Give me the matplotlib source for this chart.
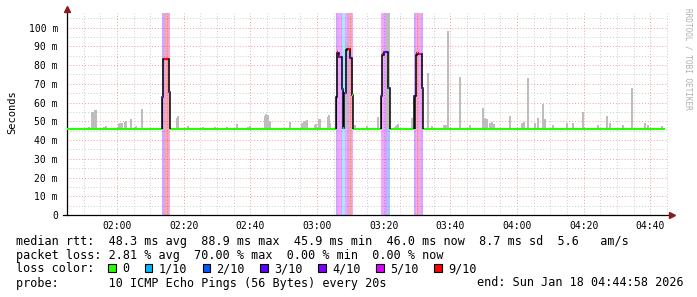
import matplotlib
matplotlib.use("Agg")
import matplotlib.pyplot as plt
from matplotlib.patches import Rectangle

W, H = 697, 297
MONO = "DejaVu Sans Mono"

# time axis in minutes after 01:45 (graph end 04:44:58)
xtick_min = [15, 35, 55, 75, 95, 115, 135, 155, 175]
xtick_lbl = ["02:00", "02:20", "02:40", "03:00", "03:20", "03:40", "04:00", "04:20", "04:40"]
ytick_val = [0, 10, 20, 30, 40, 50, 60, 70, 80, 90, 100]
ytick_lbl = ["0", "10 m", "20 m", "30 m", "40 m", "50 m", "60 m", "70 m", "80 m", "90 m", "100 m"]

median_base = 46.0
median_end = 179.3

loss_lbl = ["0", "1/10", "2/10", "3/10", "4/10", "5/10", "9/10"]
loss_col = ["#26ff00", "#00b8ff", "#0059ff", "#5e00ff", "#7e00ff", "#dd00ff", "#ff0000"]

# grey smoke: time (min), top of smoke (ms)
smoke_t = [0.15, 6.6, 7.5, 7.8, 8.4, 8.7, 11.1, 11.7, 15.6, 15.9, 16.5, 17.4, 17.7, 19.2,
           20.4, 20.7, 22.5, 33.0, 33.3, 36.3, 40.8, 44.4, 48.0, 51.0, 54.3, 54.9, 59.4,
           59.7, 60.3, 60.9, 66.9, 70.5, 71.1, 71.7, 72.0, 74.4, 74.7, 75.6, 75.9, 78.3,
           78.6, 78.9, 83.6, 83.9, 86.4, 90.0, 93.3, 96.0, 96.3, 96.6, 98.4, 98.7, 99.0,
           99.3, 103.5, 108.3, 109.5, 113.1, 113.7, 114.3, 117.9, 120.9, 124.8, 125.4,
           126.0, 126.9, 127.5, 128.1, 132.9, 136.5, 137.1, 138.3, 140.4, 141.3, 142.8,
           143.4, 145.8, 150.0, 151.8, 154.8, 159.3, 162.0, 162.9, 166.8, 169.5, 173.4,
           174.3, 178.5]
smoke_top = [55, 47, 55, 55, 56, 56, 47, 47.5, 48.5, 49, 49, 49.5, 50, 51,
             47, 47.5, 56.5, 52, 53, 47.5, 46.8, 46.8, 47, 48.5, 47, 47.5, 53,
             54, 53.5, 50, 49.5, 49, 50, 50, 50.5, 48, 48.5, 51, 51, 52.5,
             53.5, 49, 94, 92, 48, 47.5, 52.5, 108, 108, 108, 47, 47.5, 48,
             48.5, 52, 76, 47.5, 48, 48, 98, 73.5, 48, 57, 52,
             51, 49, 49.5, 48.5, 53, 49, 49.5, 73, 49, 52, 59,
             51, 48, 49, 49, 55, 48, 53, 49, 48, 68, 49,
             48, 47.5]

# loss episodes: median steps (edges in min, values in ms)
spike_edges = [
    [28.5, 28.9, 30.5, 30.9],
    [80.7, 81.1, 81.6, 82.4, 82.7, 83.2, 83.6, 84.0, 85.0, 85.4, 85.7],
    [94.2, 94.6, 95.1, 96.4, 96.8],
    [104.1, 104.6, 105.1, 106.4, 106.8],
]
spike_vals = [
    [63, 83.5, 65.5],
    [63, 86.5, 84.5, 67.5, 46.5, 65, 88, 88.5, 84, 64],
    [63.5, 85.5, 87, 68],
    [63.5, 85.5, 86, 68],
]

# dark smoke under the first step of each episode
dark_t0 = [28.5, 80.7, 82.7, 94.2, 104.1]
dark_t1 = [28.9, 81.1, 83.2, 94.6, 104.6]
dark_top = [63, 63, 66, 63.5, 63.5]

# coloured median pieces: t0, t1, ms, loss index
loss_pts = [
    (28.5, 28.8, 63, 3), (29.0, 30.4, 83.5, 6), (30.5, 30.8, 65.5, 4),
    (81.1, 81.4, 86.8, 6), (81.6, 81.9, 85, 5), (82.0, 82.3, 84.3, 4), (82.4, 82.7, 67.5, 2),
    (82.8, 83.1, 46.5, 1), (83.3, 83.6, 65, 5), (84.2, 84.8, 88.8, 6), (85.0, 85.3, 84, 3),
    (85.4, 85.7, 64, 0),
    (94.2, 94.5, 63.5, 3), (94.6, 94.9, 86, 6), (95.1, 95.9, 87, 3), (96.4, 96.7, 68, 2),
    (104.1, 104.4, 63.5, 3), (104.8, 105.1, 86.5, 6), (105.2, 105.6, 86.5, 6),
    (105.7, 106.3, 86, 5), (106.4, 106.7, 68, 4),
]

# background loss bands: t0, t1, loss index
loss_bands = [
    (28.5, 29.4, 4), (29.4, 30.6, 6), (30.6, 31.0, 5),
    (80.7, 81.4, 4), (81.4, 82.1, 5), (82.1, 82.6, 4), (82.6, 83.4, 1), (83.4, 84.0, 5),
    (84.0, 84.6, 4), (84.6, 85.4, 6), (85.4, 85.7, 5),
    (94.2, 95.3, 5), (95.3, 96.1, 4), (96.1, 96.9, 2),
    (104.1, 104.6, 4), (104.6, 105.1, 5), (105.1, 105.7, 6), (105.7, 106.3, 5), (106.3, 106.9, 4),
]

legend_lines = [
    "median rtt:  48.3 ms avg  88.9 ms max  45.9 ms min  46.0 ms now  8.7 ms sd  5.6   am/s",
    "packet loss: 2.81 % avg  70.00 % max  0.00 % min  0.00 % now",
    "loss color:",
    "probe:       10 ICMP Echo Pings (56 Bytes) every 20s",
]
end_text = "end: Sun Jan 18 04:44:58 2026"


def fx(x):
    return x / W


def fy(y):
    return 1 - y / H


fig = plt.figure(figsize=(W / 100, H / 100), dpi=100)
ax = fig.add_axes([fx(67), fy(215), (668 - 67) / W, (215 - 13) / H])
ax.set_xlim(0, 180.3)
ax.set_ylim(0, 107.8)

# grid
for t in range(5, 181, 5):
    major = t in xtick_min
    ax.axvline(t, color="#eea0a0" if major else "#cccccc", lw=0.7,
               ls=(0, (1, 2)), zorder=0.5)
for v in range(5, 106, 5):
    major = v % 10 == 0
    ax.axhline(v, color="#eea0a0" if major else "#cccccc", lw=0.7,
               ls=(0, (1, 2)), zorder=0.5)

for t0, t1, k in loss_bands:
    ax.axvspan(t0, t1, color=loss_col[k], alpha=0.35, lw=0, zorder=1)

ax.bar(smoke_t, [s - median_base for s in smoke_top], bottom=median_base,
       width=0.35, color="#bdbdbd", lw=0, align="center", zorder=2)

# green median between loss episodes
prev = 0
for e in spike_edges:
    ax.hlines(median_base, prev, e[0], color=loss_col[0], lw=1.5, zorder=3)
    prev = e[-1]
ax.hlines(median_base, prev, median_end, color=loss_col[0], lw=1.5, zorder=3)

for t0, t1, top in zip(dark_t0, dark_t1, dark_top):
    ax.bar(t0, top - median_base, bottom=median_base, width=t1 - t0,
           align="edge", color="#333333", lw=0, zorder=4)

for e, v in zip(spike_edges, spike_vals):
    ax.stairs(v, e, baseline=median_base, color="black", lw=1.1, zorder=5)

for t0, t1, v, k in loss_pts:
    ax.hlines(v, t0, t1, color=loss_col[k], lw=1.6, zorder=6)

# axes
for s in ["top", "right"]:
    ax.spines[s].set_visible(False)
ax.spines["left"].set_linewidth(0.9)
ax.spines["bottom"].set_linewidth(0.9)
ax.spines["bottom"].set_bounds(-1.2, 181)
ax.plot([0], [109.8], marker="^", ms=4, color="#8b1a1a", clip_on=False, zorder=7)
ax.plot([181.5], [0], marker=">", ms=4, color="#8b1a1a", clip_on=False, zorder=7)
ax.spines["left"].set_bounds(0, 109)

ax.set_xticks(xtick_min)
ax.set_xticklabels(xtick_lbl, family=MONO, fontsize=7)
ax.set_yticks(ytick_val)
ax.set_yticklabels(ytick_lbl, family=MONO, fontsize=7)
ax.tick_params(axis="both", length=0)
ax.tick_params(axis="y", pad=6.5)
ax.tick_params(axis="x", pad=4)

fig.text(fx(12), fy(112), "Seconds", rotation=90, ha="center", va="center",
         family=MONO, fontsize=7.5)
fig.text(fx(688), fy(59), "RRDTOOL / TOBI OETIKER", rotation=270, ha="center",
         va="center", family=MONO, fontsize=5.6, color="#b0b0b0")

# legend block
line_y = [241, 255, 269, 283]
for s, y in zip(legend_lines, line_y):
    fig.text(fx(16), fy(y), s, ha="left", va="center", family=MONO, fontsize=8.5)
fig.text(fx(684), fy(283), end_text, ha="right", va="center", family=MONO, fontsize=8.5)

bx = 108
for lbl, col in zip(loss_lbl, loss_col):
    fig.patches.append(Rectangle((fx(bx), fy(272)), 7.5 / W, 8 / H,
                                 transform=fig.transFigure, facecolor=col,
                                 edgecolor="black", lw=0.8))
    fig.text(fx(bx + 14), fy(269), lbl, ha="left", va="center", family=MONO, fontsize=8.5)
    bx = bx + 14 + len(lbl) * 7.1 + 15.5

fig.savefig("out.png", dpi=100)
